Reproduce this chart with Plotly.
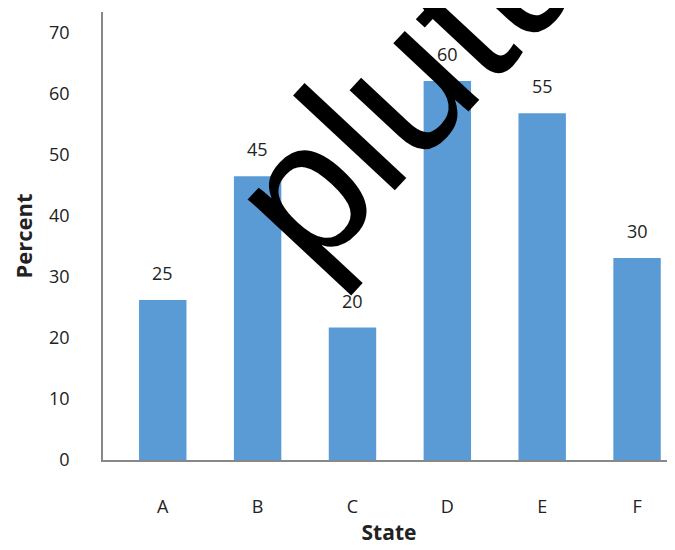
import plotly.graph_objects as go

states = ["A", "B", "C", "D", "E", "F"]
bar_heights = [26.2, 46.5, 21.7, 62.1, 56.8, 33.1]
bar_labels = ["25", "45", "20", "60", "55", "30"]
y_ticks = [0, 10, 20, 30, 40, 50, 60, 70]

fig = go.Figure()
fig.add_trace(go.Bar(
    x=states, y=bar_heights, width=0.5,
    marker=dict(color="#5B9BD5", line=dict(width=0)),
    hoverinfo="skip",
))

for s, h, lab in zip(states, bar_heights, bar_labels):
    fig.add_annotation(x=s, y=h, text=lab, showarrow=False, yanchor="bottom",
                       yshift=13, font=dict(family="Open Sans", size=18, color="#222"))

# watermark
fig.add_annotation(xref="paper", yref="paper", x=0.587, y=0.926,
                   xanchor="center", yanchor="middle",
                   text="plutus", showarrow=False, textangle=-47,
                   font=dict(family="Liberation Sans", size=192, color="black"))

fig.update_layout(
    width=667, height=542,
    margin=dict(l=95, r=0, t=4, b=90),
    paper_bgcolor="white", plot_bgcolor="white",
    showlegend=False,
    xaxis=dict(
        range=[-0.63, 5.4], showgrid=False, showline=True, linecolor="#888", linewidth=1.5,
        ticks="", tickfont=dict(family="Open Sans", size=18, color="#222"),
        ticklabelstandoff=30, automargin=False,
        title=dict(text="<b>State</b>", font=dict(family="Open Sans", size=21, color="#222"), standoff=8),
    ),
    yaxis=dict(
        range=[0, 73.4], tickvals=y_ticks, showgrid=False, showline=True, linecolor="#888", linewidth=1.5,
        ticks="", tickfont=dict(family="Open Sans", size=18, color="#222"),
        ticklabelstandoff=28, zeroline=False, automargin=False,
        title=dict(text="<b>Percent</b>", font=dict(family="Open Sans", size=22, color="#222"), standoff=23),
    ),
)

fig.write_html("out.html")
